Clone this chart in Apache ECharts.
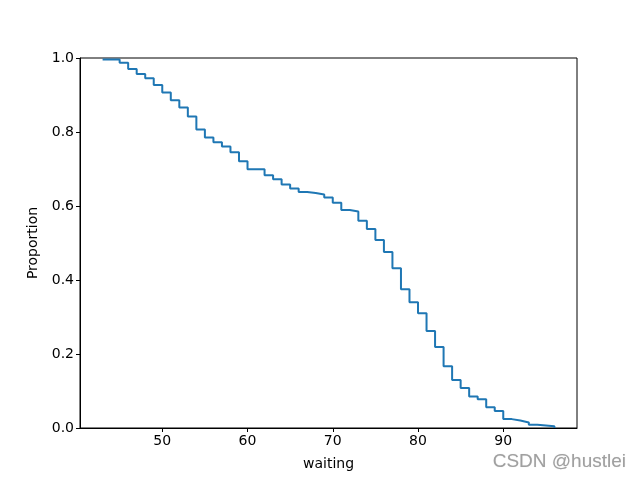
<!DOCTYPE html>
<html>
<head>
<meta charset="utf-8">
<script src="https://cdn.jsdelivr.net/npm/echarts@6/dist/echarts.min.js"></script>
<style>html,body{margin:0;padding:0;background:#fff}#c{width:640px;height:480px}</style>
</head>
<body>
<div id="c"></div>
<script>
var waiting = [43,45,46,47,48,49,50,51,52,53,54,55,56,57,58,59,60,62,63,64,65,66,67,68,69,70,71,72,73,74,75,76,77,78,79,80,81,82,83,84,85,86,87,88,89,90,91,92,93,94,96];
var proportion = [0.996,0.987,0.970,0.957,0.945,0.927,0.907,0.886,0.866,0.842,0.807,0.785,0.772,0.761,0.745,0.721,0.699,0.683,0.672,0.658,0.647,0.638,0.635,0.631,0.623,0.609,0.589,0.585,0.560,0.538,0.508,0.476,0.432,0.375,0.340,0.310,0.262,0.219,0.167,0.130,0.108,0.085,0.078,0.056,0.046,0.024,0.020,0.015,0.009,0.005,0.0];
var xTicks = [50,60,70,80,90];

var font = 'DejaVu Sans';
var chart = echarts.init(document.getElementById('c'));
var data = waiting.map(function(x,i){return [x, proportion[i]];});
chart.setOption({
  animation: false,
  grid: {left: 80, right: 63, top: 58, bottom: 52, show: true, borderColor: '#000', borderWidth: 1, backgroundColor: 'transparent'},
  xAxis: {
    type: 'value', min: 40.35, max: 98.65,
    name: 'waiting', nameLocation: 'middle', nameGap: 29,
    nameTextStyle: {fontFamily: font, fontSize: 14, color: '#000'},
    axisLine: {show: true, onZero: false, lineStyle: {color: '#000', width: 1}},
    axisTick: {show: true, length: 4, customValues: xTicks, lineStyle: {color: '#000'}},
    axisLabel: {customValues: xTicks, fontFamily: font, fontSize: 14, color: '#000', margin: 6},
    splitLine: {show: false}
  },
  yAxis: {
    type: 'value', min: 0, max: 1, interval: 0.2,
    name: 'Proportion', nameLocation: 'middle', nameGap: 38, nameRotate: 90,
    nameTextStyle: {fontFamily: font, fontSize: 14, color: '#000'},
    axisLine: {show: true, lineStyle: {color: '#000', width: 1}},
    axisTick: {show: true, length: 4, lineStyle: {color: '#000'}},
    axisLabel: {fontFamily: font, fontSize: 14, color: '#000', margin: 6, formatter: function(v){return v.toFixed(1);}},
    splitLine: {show: false}
  },
  series: [{
    type: 'line', step: 'end', data: data, showSymbol: false, symbol: 'none',
    lineStyle: {color: '#1f77b4', width: 2}, clip: false
  }],
  graphic: [{
    type: 'text', right: 14, top: 452,
    style: {text: 'CSDN @hustlei', fontFamily: 'Liberation Sans', fontSize: 19, fill: '#a0a0a0', textShadowColor: 'rgba(0,0,0,0.15)', textShadowBlur: 1}
  }]
});
</script>
</body>
</html>
